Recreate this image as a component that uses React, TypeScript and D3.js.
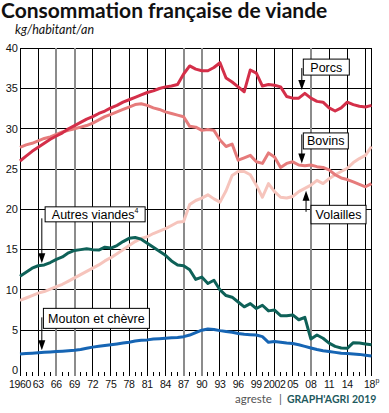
import React from "react";
import * as d3 from "d3";

// kg/habitant/an, 1960 -> 2018
const years = d3.range(1960, 2019);

const porcs = [
  26.0, 26.6, 27.2, 27.7, 28.2, 28.7, 29.1, 29.5, 30.0, 30.4,
  30.8, 31.2, 31.5, 31.9, 32.2, 32.6, 32.9, 33.3, 33.6, 33.9,
  34.2, 34.5, 34.7, 35.0, 35.2, 35.3, 35.5, 36.8, 37.8, 37.4,
  37.2, 37.2, 37.6, 38.2, 36.3, 35.8, 35.2, 34.6, 37.3, 36.9,
  35.3, 35.5, 35.4, 35.2, 34.0, 33.8, 33.8, 34.4, 33.8, 33.4,
  33.3, 32.6, 32.2, 32.6, 33.3, 33.0, 32.8, 32.7, 32.9,
];
const bovins = [
  27.7, 28.0, 28.2, 28.5, 28.8, 29.0, 29.3, 29.6, 29.8, 30.0,
  30.2, 30.4, 30.7, 31.1, 31.5, 31.8, 32.1, 32.4, 32.7, 33.0,
  33.1, 32.9, 32.6, 32.4, 32.1, 31.9, 31.7, 31.5, 30.3, 30.2,
  29.8, 29.9, 29.8, 28.6, 27.8, 28.1, 26.1, 26.4, 26.7, 25.9,
  25.7, 27.0, 26.5, 25.2, 25.7, 25.9, 25.5, 25.4, 25.5, 25.3,
  25.2, 24.9, 24.3, 23.9, 23.7, 23.4, 23.1, 22.8, 23.2,
];
const volailles = [
  8.7, 9.0, 9.3, 9.6, 9.8, 10.1, 10.4, 10.7, 11.1, 11.5,
  11.9, 12.3, 12.7, 13.1, 13.6, 14.0, 14.5, 15.0, 15.5, 16.0,
  16.4, 16.6, 17.0, 17.3, 17.6, 18.0, 18.4, 18.5, 20.6, 21.1,
  21.4, 21.8, 21.3, 20.9, 22.3, 24.2, 24.7, 24.7, 24.3, 23.0,
  21.5, 23.2, 22.2, 21.5, 21.4, 21.6, 22.2, 22.6, 23.0, 23.6,
  23.2, 23.8, 24.3, 24.7, 25.1, 25.8, 26.3, 26.7, 27.8,
];
const autres = [
  11.7, 12.2, 12.7, 13.0, 13.1, 13.4, 13.8, 14.1, 14.6, 14.9,
  15.0, 15.1, 15.0, 14.95, 15.3, 15.2, 15.5, 16.0, 16.4, 16.5,
  16.3, 15.8, 15.3, 14.8, 14.3, 13.6, 13.1, 13.0, 12.5, 11.3,
  11.6, 10.8, 11.2, 10.0, 9.3, 9.1, 8.5, 7.9, 8.3, 7.7,
  8.1, 7.4, 7.5, 6.8, 6.8, 6.9, 6.3, 6.6, 3.9, 4.4,
  4.0, 3.4, 3.0, 2.8, 2.75, 3.45, 3.4, 3.3, 3.2,
];
const mouton = [
  2.05, 2.1, 2.15, 2.2, 2.25, 2.3, 2.35, 2.4, 2.45, 2.5,
  2.6, 2.75, 2.9, 3.0, 3.1, 3.2, 3.3, 3.4, 3.5, 3.65,
  3.75, 3.8, 3.9, 3.95, 4.0, 4.05, 4.1, 4.2, 4.4, 4.7,
  5.0, 5.15, 5.1, 4.95, 4.85, 4.75, 4.6, 4.5, 4.45, 4.4,
  4.2, 3.5, 3.6, 3.5, 3.4, 3.35, 3.2, 3.0, 2.8, 2.6,
  2.45, 2.35, 2.25, 2.15, 2.1, 2.05, 2.0, 1.9, 1.8,
];

const yTicks = [0, 5, 10, 15, 20, 25, 30, 35, 40];
const tickYears = [1960, 1963, 1966, 1969, 1972, 1975, 1978, 1981, 1984, 1987, 1990, 1993, 1996, 1999, 2002, 2005, 2008, 2011, 2014, 2018];
const tickLabels = ["1960", "63", "66", "69", "72", "75", "78", "81", "84", "87", "90", "93", "96", "99", "2002", "05", "08", "11", "14", "18"];
const grayYears = [1966, 1969, 1987, 1990, 2008];

const series = [
  { name: "Volailles", values: volailles, color: "#f6c4bc" },
  { name: "Bovins", values: bovins, color: "#e67b7b" },
  { name: "Porcs", values: porcs, color: "#d42f49" },
  { name: "Autres viandes", values: autres, color: "#0e6158" },
  { name: "Mouton et chèvre", values: mouton, color: "#1665b4" },
];

// arrow tips: year / value where the arrow points
const annotations = [
  { label: "Porcs", year: 2006.5, value: 34.8, dir: "down" },
  { label: "Bovins", year: 2006.5, value: 25.7, dir: "down" },
  { label: "Volailles", year: 2007.2, value: 22.3, dir: "up" },
  { label: "Autres viandes", sup: "4", year: 1963.6, value: 13.3, dir: "down" },
  { label: "Mouton et chèvre", year: 1963.6, value: 2.5, dir: "down" },
];

// box layout relative to arrow tip
const boxLayout = {
  "Porcs": { dx: 1.5, dy: -31, w: 46, h: 16, line: -22 },
  "Bovins": { dx: 1.5, dy: -30.5, w: 45, h: 16, line: -29 },
  "Volailles": { dx: 5, dy: 14.5, w: 55, h: 18.5, line: 21 },
  "Autres viandes": { dx: 3.3, dy: -56.5, w: 100, h: 15, line: -45 },
  "Mouton et chèvre": { dx: 1.6, dy: -42, w: 106, h: 20, line: -33 },
};

const App = () => {
  const svgRef = React.useRef(null);

  React.useEffect(() => {
    const x = d3.scaleLinear().domain([1960, 2018]).range([20, 371.5]);
    const y = d3.scaleLinear().domain([0, 40]).range([370.5, 48.2]);
    const bottom = 376;

    const svg = d3.select(svgRef.current);
    svg.selectAll("*").remove();

    // title
    svg.append("text")
      .attr("x", 1).attr("y", 18)
      .attr("font-family", "Lato").attr("font-weight", "bold").attr("font-size", 21)
      .attr("fill", "#111")
      .text("Consommation française de viande");
    svg.append("text")
      .attr("x", 15).attr("y", 34)
      .attr("font-family", "Lato").attr("font-style", "italic").attr("font-size", 12.5)
      .attr("fill", "#111")
      .text("kg/habitant/an");

    const grid = svg.append("g").attr("shape-rendering", "crispEdges");

    // horizontal grid
    grid.selectAll(".h")
      .data(yTicks.filter((t) => t > 0))
      .enter()
      .append("line")
      .attr("x1", x(1960)).attr("x2", x(2018))
      .attr("y1", (d) => y(d)).attr("y2", (d) => y(d))
      .attr("stroke", "#000").attr("stroke-width", 1);

    // minor year ticks
    const gridYears = d3.range(1960, 2018, 3).concat([2018]);
    grid.selectAll(".m")
      .data(years.filter((yr) => !gridYears.includes(yr)))
      .enter()
      .append("line")
      .attr("x1", (d) => x(d)).attr("x2", (d) => x(d))
      .attr("y1", y(0) + 1).attr("y2", bottom)
      .attr("stroke", "#000").attr("stroke-width", 1);

    // vertical grid
    grid.selectAll(".v")
      .data(gridYears)
      .enter()
      .append("line")
      .attr("x1", (d) => x(d)).attr("x2", (d) => x(d))
      .attr("y1", y(40)).attr("y2", bottom)
      .attr("stroke", (d) => grayYears.includes(d) ? "#8c8c8c" : "#000")
      .attr("stroke-width", (d) => grayYears.includes(d) ? 2 : 1);

    // y labels
    svg.append("g")
      .selectAll("text")
      .data(yTicks)
      .enter()
      .append("text")
      .attr("x", 18).attr("y", (d) => y(d))
      .attr("dy", "0.35em")
      .attr("text-anchor", "end")
      .attr("font-family", "Liberation Sans").attr("font-size", 11)
      .attr("fill", "#111")
      .text((d) => d);

    // x labels
    svg.append("g")
      .selectAll("text")
      .data(tickYears)
      .enter()
      .append("text")
      .attr("x", (d) => x(d) - (d === 2018 ? 2 : 0)).attr("y", 388)
      .attr("text-anchor", "middle")
      .attr("font-family", "Liberation Sans").attr("font-size", 10.5)
      .attr("letter-spacing", -0.3)
      .attr("fill", "#111")
      .text((d, i) => tickLabels[i]);
    svg.append("text")
      .attr("x", x(2018) + 4).attr("y", 383)
      .attr("font-family", "Liberation Sans").attr("font-size", 7)
      .attr("fill", "#111")
      .text("p");

    // lines
    const line = d3.line()
      .x((d, i) => x(years[i]))
      .y((d) => y(d));
    svg.append("g")
      .selectAll("path")
      .data(series)
      .enter()
      .append("path")
      .attr("fill", "none")
      .attr("stroke", (d) => d.color)
      .attr("stroke-width", 3)
      .attr("stroke-linejoin", "round")
      .attr("d", (d) => line(d.values));

    // annotations
    const ann = svg.append("g");
    annotations.forEach((a) => {
      const tx = x(a.year);
      const ty = y(a.value);
      const b = boxLayout[a.label];
      const head = a.dir === "down" ? -10 : 10;
      ann.append("line")
        .attr("x1", tx).attr("x2", tx)
        .attr("y1", ty + b.line).attr("y2", ty + head / 2)
        .attr("stroke", "#000").attr("stroke-width", 1);
      ann.append("path")
        .attr("d", `M${tx},${ty}L${tx - 3.5},${ty + head}L${tx + 3.5},${ty + head}Z`)
        .attr("fill", "#000");
      ann.append("rect")
        .attr("x", tx + b.dx).attr("y", ty + b.dy)
        .attr("width", b.w).attr("height", b.h)
        .attr("fill", "#fff").attr("stroke", "#000").attr("stroke-width", 1);
      const t = ann.append("text")
        .attr("x", tx + b.dx + b.w / 2).attr("y", ty + b.dy + b.h / 2)
        .attr("dy", "0.36em")
        .attr("text-anchor", "middle")
        .attr("font-family", "Liberation Sans").attr("font-size", 12.5)
        .attr("fill", "#000")
        .text(a.label);
      if (a.sup) {
        t.append("tspan").attr("font-size", 7).attr("dy", "-0.9em").text(a.sup);
      }
    });

    // source
    svg.append("text")
      .attr("x", 235).attr("y", 403)
      .attr("font-family", "Lato").attr("font-size", 11.5)
      .attr("fill", "#555")
      .text("agreste");
    svg.append("text")
      .attr("x", 279).attr("y", 403)
      .attr("font-family", "Lato").attr("font-size", 11.5)
      .attr("fill", "#555")
      .text("|");
    svg.append("text")
      .attr("x", 287).attr("y", 403)
      .attr("font-family", "Lato").attr("font-weight", "bold").attr("font-size", 10.5)
      .attr("fill", "#1f5a5e")
      .text("GRAPH'AGRI 2019");
  }, []);

  return (
    <svg
      ref={svgRef}
      width={389}
      height={413}
      style={{ position: "absolute", left: 0, top: 0, background: "#fff" }}
    />
  );
};

export default App;
